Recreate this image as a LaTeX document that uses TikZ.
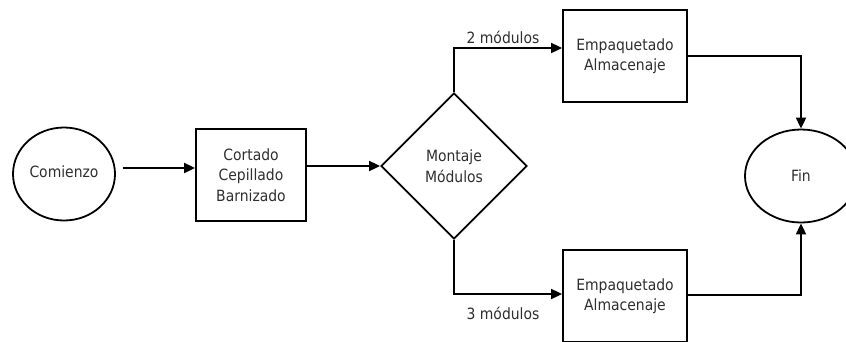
\documentclass[tikz,border=0pt]{standalone}
\usepackage{fontspec}
\setmainfont{DejaVu Sans Condensed}
\usetikzlibrary{shapes.geometric,arrows.meta}
\definecolor{ink}{HTML}{2E2E2E}
\begin{document}
\begin{tikzpicture}[x=1pt,y=-1pt,
  every node/.style={text=ink,font=\fontsize{15.5}{20.5}\selectfont,align=center,inner sep=0pt},
  stepbox/.style={draw=black,line width=1.8pt,rectangle,minimum width=#1,minimum height=92pt},
  terminal/.style={draw=black,line width=1.8pt,ellipse,minimum width=#1,minimum height=93pt},
  decision/.style={draw=black,line width=1.8pt,diamond,minimum width=146pt,minimum height=146pt},
  flow/.style={draw=black,line width=1.8pt,-{Triangle[length=11pt,width=10pt]}},
  lbl/.style={font=\fontsize{15.5}{17}\selectfont}]
\useasboundingbox (0,0) rectangle (846,341);

% process nodes
\node[terminal=102pt] (start) at (64,174) {\raisebox{4pt}{Comienzo}};
\node[stepbox=110pt] (cut) at (251,175) {\raisebox{4pt}{\parbox{106pt}{\centering Cortado\\Cepillado\\Barnizado}}};
\node[decision] (mount) at (454,166) {\raisebox{-4pt}{\parbox{100pt}{\centering Montaje\\Módulos}}};
\node[stepbox=124pt] (packA) at (625,56) {\raisebox{-6pt}{\parbox{120pt}{\centering Empaquetado\\Almacenaje}}};
\node[stepbox=124pt] (packB) at (625,296) {\raisebox{-4pt}{\parbox{120pt}{\centering Empaquetado\\Almacenaje}}};
\node[terminal=112pt] (end) at (801,176) {Fin};

% helper points for the connector ends and corners
\coordinate (startOut) at ([xshift=7pt,yshift=6pt]start.east);
\coordinate (upA) at (454,48);
\coordinate (downB) at (454,294);
\coordinate (outA) at (801,56);
\coordinate (outB) at (801,295);

% connectors
\draw[flow] (startOut) -- (cut.west |- startOut);
\draw[flow] (cut.east |- mount.west) -- (mount.west);
\draw[flow] (mount.north) -- (upA) -- (packA.west |- upA);
\draw[flow] (mount.south) -- (downB) -- (packB.west |- downB);
\draw[flow] (packA.east) -- (outA) -- (end.north);
\draw[flow] (packB.east |- outB) -- (outB) -- (end.south);

% branch labels
\node[lbl] (twoMod) at (503,37) {2 módulos};
\node[lbl] (threeMod) at (503,313) {3 módulos};
\end{tikzpicture}
\end{document}
